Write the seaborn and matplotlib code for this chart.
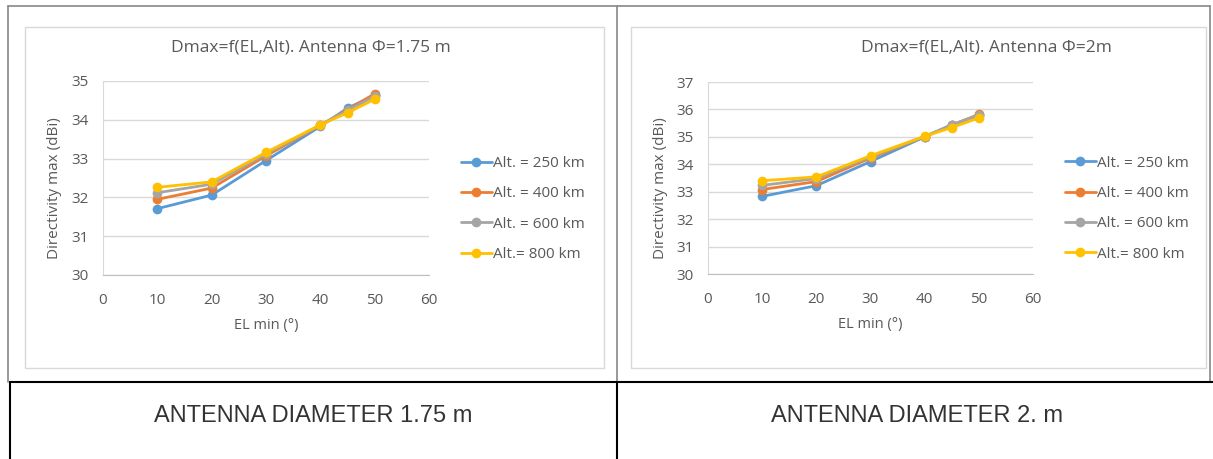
import pandas as pd
import matplotlib.pyplot as plt
import seaborn as sns
from matplotlib.lines import Line2D
from matplotlib.patches import Rectangle

# Data
el_min = [10, 20, 30, 40, 45, 50]
altitudes = ['Alt. = 250 km', 'Alt. = 400 km', 'Alt. = 600 km', 'Alt.= 800 km']

d175_250 = [31.71, 32.06, 32.95, 33.83, 34.30, 34.63]
d175_400 = [31.95, 32.24, 33.07, 33.86, 34.26, 34.67]
d175_600 = [32.12, 32.34, 33.12, 33.86, 34.24, 34.61]
d175_800 = [32.26, 32.40, 33.16, 33.87, 34.18, 34.53]

d200_250 = [32.83, 33.22, 34.10, 35.00, 35.44, 35.78]
d200_400 = [33.08, 33.37, 34.23, 35.01, 35.42, 35.82]
d200_600 = [33.23, 33.48, 34.27, 35.01, 35.44, 35.80]
d200_800 = [33.40, 33.54, 34.31, 35.02, 35.34, 35.69]

colors = ['#5B9BD5', '#ED7D31', '#A5A5A5', '#FFC000']


def build_frame(series):
    rows = []
    for alt, vals in zip(altitudes, series):
        for x, y in zip(el_min, vals):
            rows.append({'EL': x, 'D': y, 'Alt': alt})
    return pd.DataFrame(rows)


df175 = build_frame([d175_250, d175_400, d175_600, d175_800])
df200 = build_frame([d200_250, d200_400, d200_600, d200_800])

sns.set_style('white')
plt.rcParams['font.family'] = ['Open Sans', 'DejaVu Sans']

W, H = 1213, 459
fig = plt.figure(figsize=(W / 100, H / 100), dpi=100)
fig.patch.set_facecolor('white')


def px(x0, y0, x1, y1):
    # pixel box -> figure fraction rect
    return [x0 / W, 1 - y1 / H, (x1 - x0) / W, (y1 - y0) / H]


# table lines
def hline(y, x0, x1, color, lw):
    fig.add_artist(Line2D([x0 / W, x1 / W], [1 - y / H, 1 - y / H], color=color, lw=lw))


def vline(x, y0, y1, color, lw):
    fig.add_artist(Line2D([x / W, x / W], [1 - y0 / H, 1 - y1 / H], color=color, lw=lw))


hline(6, 8, 1210, '#888888', 1.2)
vline(8, 6, 382, '#888888', 1.2)
vline(617, 6, 382, '#888888', 1.2)
vline(1210, 6, 382, '#888888', 1.2)
hline(382, 10, 1213, 'black', 1.5)
vline(10, 382, 459, 'black', 1.5)
vline(617, 382, 459, 'black', 1.5)

# chart frames
for x0, x1 in [(25, 604), (631, 1206)]:
    fig.add_artist(Rectangle((x0 / W, 1 - 368 / H), (x1 - x0) / W, (368 - 27) / H,
                             transform=fig.transFigure, fill=False,
                             edgecolor='#D9D9D9', lw=1))

panels = [
    (df175, px(103, 81, 429, 275), (30, 35), 'Dmax=f(EL,Alt). Antenna \u03a6=1.75 m', 311, 55),
    (df200, px(708, 82, 1033, 274), (30, 37), 'Dmax=f(EL,Alt). Antenna \u03a6=2m', 986, 660),
]

for df, rect, ylim, title, title_x, ylab_x in panels:
    ax = fig.add_axes(rect)
    sns.lineplot(data=df, x='EL', y='D', hue='Alt', hue_order=altitudes,
                 palette=colors, marker='o', markersize=7, markeredgewidth=0,
                 linewidth=2, ax=ax)
    ax.set_xlim(0, 60)
    ax.set_ylim(*ylim)
    ax.set_xticks(range(0, 61, 10))
    ax.set_yticks(range(ylim[0], ylim[1] + 1))
    ax.grid(axis='y', color='#D9D9D9', lw=1)
    ax.set_axisbelow(True)
    for s in ['top', 'right']:
        ax.spines[s].set_visible(False)
    ax.spines['left'].set_color('#D9D9D9')
    ax.spines['bottom'].set_color('#BFBFBF')
    ax.tick_params(length=0, labelsize=11, colors='#595959')
    ax.tick_params(axis='x', pad=13)
    ax.tick_params(axis='y', pad=10)
    ax.set_xlabel('EL min (\u00b0)', fontsize=10.5, color='#595959', labelpad=7)
    ax.set_ylabel('')
    fig.text(ylab_x / W, 1 - 188 / H, 'Directivity max (dBi)', rotation=90,
             ha='center', va='center', fontsize=11, color='#595959')
    fig.text(title_x / W, 1 - 47 / H, title, ha='center', va='center',
             fontsize=12.5, color='#595959')
    handles, labels = ax.get_legend_handles_labels()
    ax.legend(handles, labels, loc='center left', bbox_to_anchor=(1.08, 0.34),
              frameon=False, fontsize=11, labelcolor='#595959', handlelength=2.0,
              handletextpad=0.1, labelspacing=1.0, borderaxespad=0)

fig.text(313 / W, 1 - 416 / H, 'ANTENNA DIAMETER 1.75 m', ha='center', va='center',
         fontsize=17, color='#333333', family='Liberation Sans')
fig.text(917 / W, 1 - 416 / H, 'ANTENNA DIAMETER 2. m', ha='center', va='center',
         fontsize=17, color='#333333', family='Liberation Sans')

fig.savefig('out.png', dpi=100, facecolor='white')
